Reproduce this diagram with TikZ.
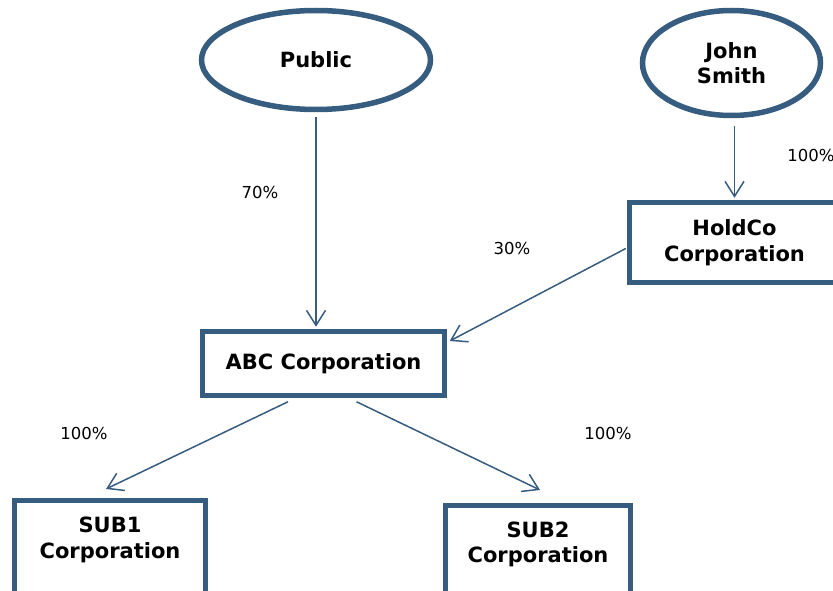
\documentclass[tikz,border=0pt]{standalone}
\usepackage{fontspec}
\setmainfont{DejaVu Sans}
\usetikzlibrary{shapes.geometric,arrows.meta,calc,positioning}

\begin{document}
\begin{tikzpicture}[x=1pt,y=-1pt,
	owner/.style={ellipse,draw=boxcolor,line width=5.5pt,inner sep=0pt,align=center,font=\fontsize{21}{25.5}\selectfont\bfseries},
	corp/.style={rectangle,draw=boxcolor,fill=white,line width=5.5pt,inner sep=0pt,align=center,font=\fontsize{21}{25.5}\selectfont\bfseries},
	share/.style={-{Straight Barb[length=15pt,width=19pt]},line width=1.5pt,draw=boxcolor},
	pct/.style={font=\fontsize{16.5}{19}\selectfont}]

	\definecolor{boxcolor}{rgb}{0.21,0.36,0.50}
	\useasboundingbox (0,0) rectangle (833,591);

	\node(pub) [owner,minimum width=229pt,minimum height=99pt] at (316,60){Public};
	\node(john) [owner,minimum width=178pt,minimum height=105pt] at (731.5,63){John\\Smith};

	\node(hold) [corp,minimum width=210pt,minimum height=80pt] at (734.5,242.5){HoldCo\\Corporation};
	\node(abc) [corp,minimum width=242pt,minimum height=64pt] at (323.5,363.5){ABC Corporation};

	\node(sub1) [corp,anchor=north,minimum width=191pt,inner ysep=17pt,text depth=100pt] at (110,497.5){SUB1\\Corporation};
	\node(sub2) [corp,anchor=north,minimum width=185pt,inner ysep=16.5pt,text depth=100pt] at (538,502.5){SUB2\\Corporation};

	% percentages
	\node(p70) [pct] at (260,192){70\%};
	\node(p30) [pct] at (512,248){30\%};
	\node(pjohn) [pct] at (811,155){100\%};
	\node(psub1) [pct] at (84,433){100\%};
	\node(psub2) [pct] at (608,433){100\%};

	\draw[share,shorten <=5pt,shorten >=2pt] (pub.south) -- (pub.south |- abc.north);
	\draw[share,shorten <=8pt,shorten >=2pt] (hold.north |- john.south) -- (hold.north);
	\draw[share] ([shift={(-1,6)}]hold.west) -- ([shift={(2.5,-22.5)}]abc.east);
	\draw[share] ([shift={(-35.5,3.5)}]abc.south) -- ([shift={(-4,-8.5)}]sub1.north);
	\draw[share] ([shift={(33,3.5)}]abc.south) -- ([shift={(2,-12.5)}]sub2.north);

\end{tikzpicture}
\end{document}
